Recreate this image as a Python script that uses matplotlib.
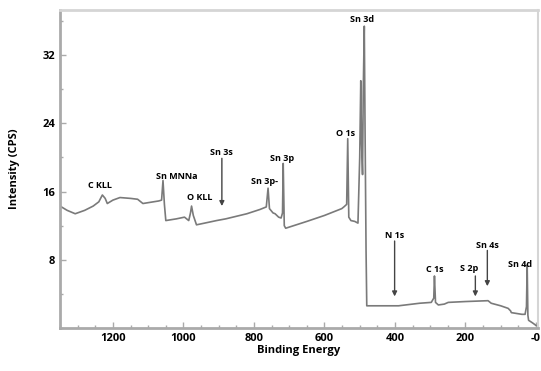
import numpy as np
import matplotlib.pyplot as plt
from matplotlib.ticker import MultipleLocator

plt.rcParams['font.family'] = ['Open Sans', 'DejaVu Sans']

# spectrum (binding energy eV, intensity CPS)
energy = [1350, 1330, 1307, 1280, 1256, 1240, 1230, 1222, 1216, 1200, 1180, 1150,
          1130, 1115, 1100, 1070, 1062, 1058, 1054, 1050, 1020, 997, 985, 980,
          977, 972, 963, 940, 906, 880, 860, 820, 783, 765, 760, 756,
          746, 740, 730, 723, 719, 717, 714, 710, 650, 600, 551, 545,
          537, 534, 531, 525, 514, 505, 500, 497, 495, 492, 490, 487,
          485, 482, 480, 475, 460, 390, 330, 297, 290, 288, 285, 277,
          260, 249, 200, 136, 127, 100, 79, 72, 70, 40, 31, 27,
          25, 23, 21, 10, 0]
intensity = [14.3, 13.8, 13.4, 13.8, 14.3, 14.8, 15.6, 15.2, 14.6, 15.0, 15.3, 15.2,
             15.1, 14.6, 14.7, 14.9, 15.0, 17.3, 14.5, 12.6, 12.8, 13.0, 12.6, 13.5,
             14.3, 13.2, 12.1, 12.3, 12.6, 12.8, 13.0, 13.4, 13.9, 14.2, 16.4, 14.0,
             13.5, 13.4, 13.0, 12.9, 13.5, 19.3, 12.0, 11.7, 12.5, 13.2, 14.0, 14.2,
             14.5, 22.2, 13.0, 12.6, 12.5, 12.3, 20.0, 29.0, 22.0, 18.0, 27.7, 35.4,
             24.0, 9.0, 2.6, 2.6, 2.6, 2.6, 2.9, 3.0, 3.5, 6.1, 3.0, 2.7,
             2.8, 3.0, 3.1, 3.2, 2.9, 2.6, 2.3, 2.0, 1.8, 1.6, 1.6, 2.5,
             7.4, 1.5, 0.9, 0.6, 0.3]

# peak labels
peak_names = ['C KLL', 'Sn MNNa', 'O KLL', 'Sn 3s', 'Sn 3p-', 'Sn 3p', 'O 1s',
              'Sn 3d', 'N 1s', 'C 1s', 'S 2p', 'Sn 4s', 'Sn 4d']
peak_e = [1238, 1018, 953, 893, 769, 721, 540, 492, 401, 288, 189, 138, 45]
peak_i = [16.7, 17.8, 15.3, 20.6, 17.2, 19.9, 22.8, 36.2, 10.9, 6.9, 7.0, 9.7, 7.4]

# arrows (energy, start, end)
arrow_e = [891, 401, 172, 138]
arrow_from = [19.9, 10.2, 6.1, 9.1]
arrow_to = [14.3, 3.7, 3.7, 4.9]

fig = plt.figure(figsize=(5.41, 3.71), dpi=100)
ax = fig.add_axes([0.111, 0.116, 0.883, 0.857])

ax.plot(energy, intensity, color='#7a7a7a', lw=1.2)

for name, e, i in zip(peak_names, peak_e, peak_i):
    ax.text(e, i, name, ha='center', va='center', fontsize=6.5, fontweight='bold')

for e, a, b in zip(arrow_e, arrow_from, arrow_to):
    ax.annotate('', xy=(e, b), xytext=(e, a),
                arrowprops=dict(arrowstyle='-|>', color='#444444', lw=1.0,
                                mutation_scale=7, shrinkA=0, shrinkB=0))

ax.set_xlim(1350, -5)
ax.set_ylim(0, 37.3)
ax.set_xticks([1200, 1000, 800, 600, 400, 200, 0])
ax.set_xticklabels(['1200', '1000', '800', '600', '400', '200', '-0'])
ax.xaxis.set_minor_locator(MultipleLocator(50))
ax.set_yticks([8, 16, 24, 32])
ax.yaxis.set_minor_locator(MultipleLocator(4))

ax.tick_params(which='both', direction='in', color='#aaaaaa', labelsize=8)
ax.tick_params(which='major', length=4, width=1)
ax.tick_params(which='minor', length=2, width=1)
for lab in ax.get_xticklabels() + ax.get_yticklabels():
    lab.set_fontweight('bold')

ax.spines['left'].set_color('#aaaaaa')
ax.spines['bottom'].set_color('#aaaaaa')
ax.spines['left'].set_linewidth(2)
ax.spines['bottom'].set_linewidth(2)
ax.spines['top'].set_color('#d5d5d5')
ax.spines['right'].set_color('#d5d5d5')
ax.spines['top'].set_linewidth(2)
ax.spines['right'].set_linewidth(1.5)

ax.set_xlabel('Binding Energy', fontsize=8, fontweight='bold', labelpad=1)
ax.set_ylabel('Intensity (CPS)', fontsize=8, fontweight='bold', labelpad=16)

fig.savefig('out.png', dpi=100)
